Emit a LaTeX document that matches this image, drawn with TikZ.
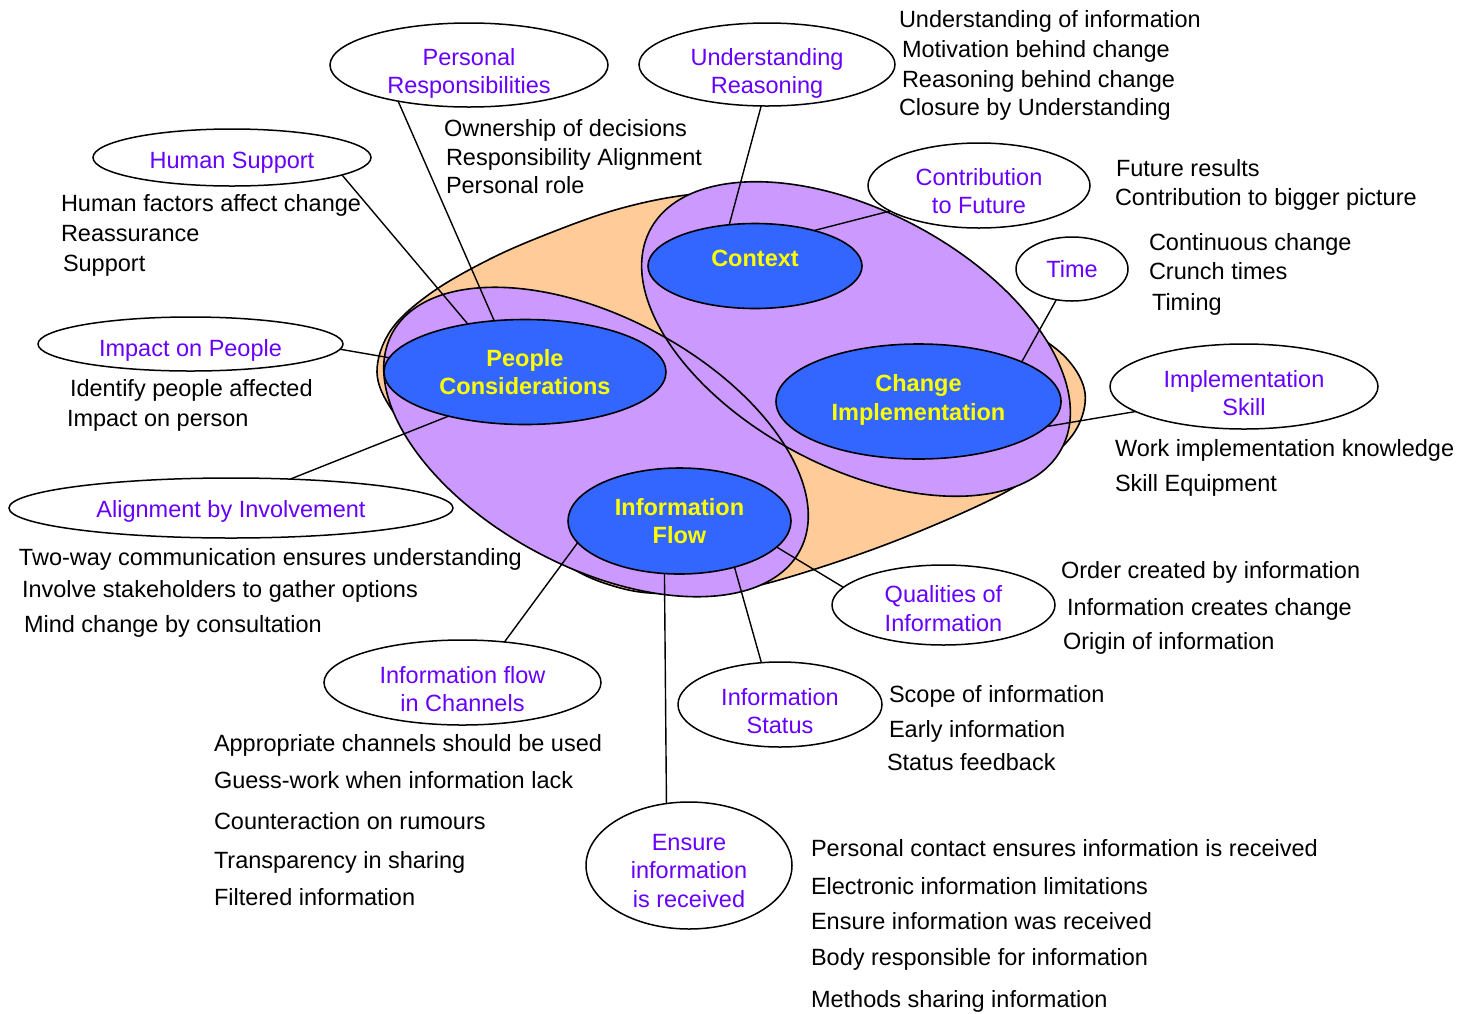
\documentclass[tikz,border=0pt]{standalone}
\usepackage{fontspec}
\setmainfont{Liberation Sans}
\usetikzlibrary{shapes.geometric}
\definecolor{orfill}{HTML}{FFCC99}
\definecolor{pufill}{HTML}{CC99FF}
\definecolor{blfill}{HTML}{3366FF}
\definecolor{yel}{HTML}{FFFF00}
\definecolor{vio}{HTML}{6600FF}
% #1 = height of first-line strut (pt), #2 = text; last line gets a fixed 6pt depth
\newcommand\lbltxt[2]{\rule{0pt}{#1pt}#2\rule[-6pt]{0pt}{6pt}}
\begin{document}
\begin{tikzpicture}[x=1pt,y=-1pt,
  font=\fontsize{23.5}{28.5}\selectfont,
  mainbox/.style={ellipse, draw=black, line width=1.6pt, fill=blfill, text=yel,
    font=\fontsize{23.5}{28.5}\selectfont\bfseries, align=center, inner sep=-20pt, outer sep=0pt},
  satbox/.style={ellipse, draw=black, line width=1.5pt, fill=white, text=vio,
    align=center, inner sep=-20pt, outer sep=0pt},
  item/.style={anchor=base west, inner sep=0pt, outer sep=0pt, text=black},
  link/.style={draw=black, line width=1.4pt},
  blob/.style={draw=black, line width=1.6pt}
]
\useasboundingbox (0,0) rectangle (1475,1013);

% background blobs
\filldraw[fill=orfill, blob] plot[smooth cycle, tension=0.6] coordinates {
  (377,372) (391,330) (431,293) (490,259) (550,233) (615,210) (679,196)
  (740,192) (810,200) (880,230) (960,283) (1030,330) (1068,360) (1085,393)
  (1077,428) (1050,458) (1004,493) (890,543) (772,582) (710,592) (650,593)
  (610,585) (575,570) (540,545) (480,495) (425,445) (392,410)};
\fill[pufill, rotate around={-28:(596,442)}] (596,442) ellipse [x radius=231pt, y radius=125pt];
\fill[pufill, rotate around={-28:(856,339)}] (856,339) ellipse [x radius=233pt, y radius=128pt];
\draw[blob, rotate around={-28:(596,442)}] (596,442) ellipse [x radius=231pt, y radius=125pt];
\draw[blob, rotate around={-28:(856,339)}] (856,339) ellipse [x radius=233pt, y radius=128pt];

% main nodes
\node[mainbox, minimum width=214pt, minimum height=85pt] (ctx) at (755,266) {Context\rule[-14.7pt]{0pt}{14.7pt}};
\node[mainbox, minimum width=282pt, minimum height=105pt] (pc) at (525,372) {People\\Considerations};
\node[mainbox, minimum width=285pt, minimum height=115pt] (ci) at (918.5,401.5) {Change\\Implementation\rule[-7.7pt]{0pt}{7.7pt}};
\node[mainbox, minimum width=223pt, minimum height=106pt] (inf) at (679.5,521) {Information\\Flow};

% satellite nodes
\node[satbox, minimum width=278pt, minimum height=84pt] (pr) at (469,65) {\lbltxt{34.8}{Personal\\Responsibilities}};
\node[satbox, minimum width=278pt, minimum height=57pt] (hs) at (232,157.5) {\lbltxt{27.8}{Human Support}};
\node[satbox, minimum width=256pt, minimum height=83pt] (ur) at (767,64.5) {\lbltxt{35.8}{Understanding\\Reasoning}};
\node[satbox, minimum width=222pt, minimum height=85pt] (cf) at (979,185.5) {\lbltxt{33.8}{Contribution\\to Future}};
\node[satbox, minimum width=112pt, minimum height=64pt] (tm) at (1072,269) {\lbltxt{22.8}{Time}};
\node[satbox, minimum width=305pt, minimum height=54pt] (ip) at (190.5,344) {\lbltxt{30.8}{Impact on People}};
\node[satbox, minimum width=444pt, minimum height=60pt] (ai) at (231,508) {\lbltxt{24.8}{Alignment by Involvement}};
\node[satbox, minimum width=268pt, minimum height=85pt] (isk) at (1244,386.5) {\lbltxt{35.8}{Implementation\\Skill}};
\node[satbox, minimum width=223pt, minimum height=80pt] (qi) at (943.5,605) {\lbltxt{29.8}{Qualities of\\Information}};
\node[satbox, minimum width=277pt, minimum height=85pt] (ic) at (462.5,682.5) {\lbltxt{35.8}{Information flow\\in Channels}};
\node[satbox, minimum width=204pt, minimum height=85pt] (ist) at (780,704.5) {\lbltxt{35.8}{Information\\Status}};
\node[satbox, minimum width=206pt, minimum height=127pt] (er) at (689,865.5) {\lbltxt{32.8}{Ensure\\information\\is received}};

% connectors
\draw[link] (pr.207) -- (pc.121);
\draw[link] (hs.-9) -- (pc.140);
\draw[link] (ur.-98) -- (ctx.122);
\draw[link] (cf.196) -- (ctx.31);
\draw[link] (tm.243) -- (ci.21);
\draw[link] (isk.193) -- (ci.-11);
\draw[link] (ip.-2) -- (pc.174);
\draw[link] (ai.26) -- (pc.210);
\draw[link] (ic.44) -- (inf.192);
\draw[link] (er.110) -- (inf.254);
\draw[link] (ist.114) -- (inf.-40);
\draw[link] (qi.170) -- (inf.-15.5);

% text lists
\node[item] (t1) at (899,27) {Understanding of information};
\node[item] (t2) at (902,57) {Motivation behind change};
\node[item] (t3) at (902,87) {Reasoning behind change};
\node[item] (t4) at (899,115) {Closure by Understanding};
\node[item] (t5) at (444,136) {Ownership of decisions};
\node[item] (t6) at (446,165) {Responsibility Alignment};
\node[item] (t7) at (446,193) {Personal role};
\node[item] (t8) at (61,211) {Human factors affect change};
\node[item] (t9) at (61,241) {Reassurance};
\node[item] (t10) at (63,271) {Support};
\node[item] (t11) at (1116,176) {Future results};
\node[item] (t12) at (1115,205) {Contribution to bigger picture};
\node[item] (t13) at (1149,250) {Continuous change};
\node[item] (t14) at (1149,279) {Crunch times};
\node[item] (t15) at (1152,310) {Timing};
\node[item] (t16) at (1115,456) {Work implementation knowledge};
\node[item] (t17) at (1115,491) {Skill Equipment};
\node[item] (t18) at (1061,578) {Order created by information};
\node[item] (t19) at (1067,615) {Information creates change};
\node[item] (t20) at (1063,649) {Origin of information};
\node[item] (t21) at (70,396) {Identify people affected};
\node[item] (t22) at (67,426) {Impact on person};
\node[item] (t23) at (19,565) {Two-way communication ensures understanding};
\node[item] (t24) at (22,597) {Involve stakeholders to gather options};
\node[item] (t25) at (24,632) {Mind change by consultation};
\node[item] (t26) at (214,751) {Appropriate channels should be used};
\node[item] (t27) at (214,788) {Guess-work when information lack};
\node[item] (t28) at (214,829) {Counteraction on rumours};
\node[item] (t29) at (214,868) {Transparency in sharing};
\node[item] (t30) at (214,905) {Filtered information};
\node[item] (t31) at (889,702) {Scope of information};
\node[item] (t32) at (889,737) {Early information};
\node[item] (t33) at (887,770) {Status feedback};
\node[item] (t34) at (811,856) {Personal contact ensures information is received};
\node[item] (t35) at (811,894) {Electronic information limitations};
\node[item] (t36) at (811,929) {Ensure information was received};
\node[item] (t37) at (811,965) {Body responsible for information};
\node[item] (t38) at (811,1007) {Methods sharing information};
\end{tikzpicture}
\end{document}
